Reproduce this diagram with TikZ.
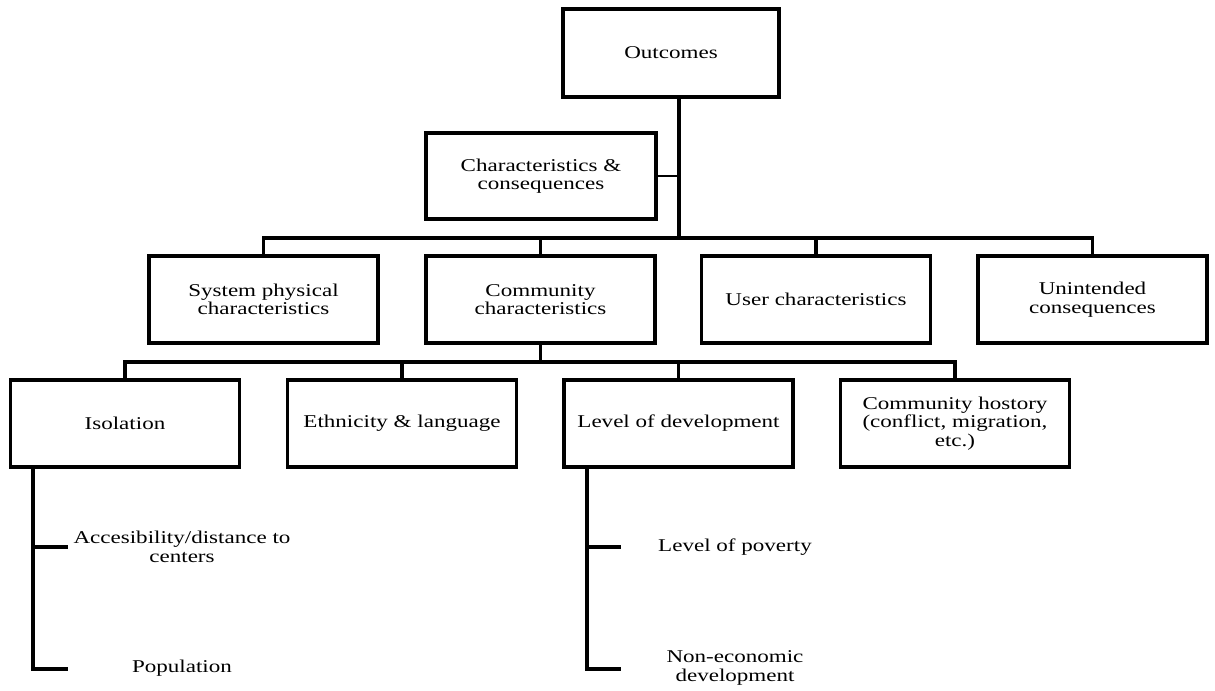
\documentclass[tikz,border=0pt]{standalone}
\usepackage{fontspec}
\setmainfont{Liberation Serif}[FakeStretch=1.28]
\begin{document}
\begin{tikzpicture}[x=0.75pt,y=-0.75pt,
  box/.style={draw=black,line width=2.4pt,fill=white,align=center,
    minimum width=229*0.75pt,minimum height=87*0.75pt,inner sep=0pt,
    font=\fontsize{13.5pt}{13.9pt}\selectfont},
  label/.style={align=center,inner sep=0pt,
    font=\fontsize{13.5pt}{14.6pt}\selectfont},
  conn/.style={draw=black,line width=2.4pt},
  trunk/.style={draw=black,line width=2.9pt},
  thin/.style={draw=black,line width=1.7pt}]
\useasboundingbox (0,0) rectangle (1215,691);

% top level
\node[box,minimum width=216*0.75pt,minimum height=88*0.75pt] (out) at (671,53) {Outcomes};
\node[box,minimum width=230*0.75pt,minimum height=86*0.75pt] (cc) at (541,176) {Characteristics \&\\consequences};

% second row
\node[box] (sys) at (263.5,299.5) {System physical\\characteristics};
\node[box] (com) at (540.5,299.5) {Community\\characteristics};
\node[box] (usr) at (816,299.5) {User characteristics};
\node[box] (uni) at (1092.5,299.5) {Unintended\\consequences};

% third row
\node[box] (iso) at (125,423.5) {Isolation};
\node[box] (eth) at (402,423.5) {Ethnicity \& language};
\node[box] (lev) at (678.5,423.5) {Level of development};
\node[box] (his) at (955,423.5) {Community hostory\\(conflict, migration,\\etc.)};

% leaf items
\node[label] (acc) at (182,547) {Accesibility/distance to\\centers};
\node[label] (pop) at (182,668) {Population};
\node[label] (pov) at (735,547) {Level of poverty};
\node[label] (nec) at (735,668) {Non-economic\\development};

% buses
\coordinate (bus1) at (679,238);
\coordinate (bus2) at (540.5,362);

\draw[trunk] (out.south -| bus1) -- (bus1);
\draw[thin] (cc.east) -- (cc.east -| bus1);
\draw[conn] (sys.north) -- (sys.north |- bus1) -- (uni.north |- bus1) -- (uni.north);
\draw[conn] (com.north) -- (com.north |- bus1);
\draw[conn] (usr.north) -- (usr.north |- bus1);

\draw[conn] (com.south) -- (bus2);
\draw[conn] (iso.north) -- (iso.north |- bus2) -- (his.north |- bus2) -- (his.north);
\draw[conn] (eth.north) -- (eth.north |- bus2);
\draw[conn] (lev.north) -- (lev.north |- bus2);

% isolation sub-items
\coordinate (isoT) at (33,669);
\coordinate (isoA) at (68,547);
\coordinate (isoP) at (68,669);
\draw[conn] (iso.south -| isoT) -- (isoT) -- (isoP);
\draw[conn] (isoA -| isoT) -- (isoA);

% development sub-items
\coordinate (levT) at (587,669);
\coordinate (levA) at (621,547);
\coordinate (levP) at (621,669);
\draw[conn] (lev.south -| levT) -- (levT) -- (levP);
\draw[conn] (levA -| levT) -- (levA);
\end{tikzpicture}
\end{document}
